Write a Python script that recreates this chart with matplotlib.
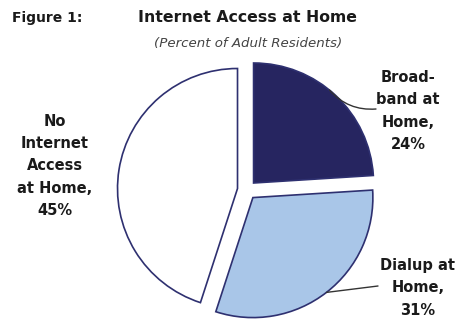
import matplotlib.pyplot as plt
import numpy as np

# data
labels = ["Broad-\nband at\nHome,\n24%", "Dialup at\nHome,\n31%", "No\nInternet\nAccess\nat Home,\n45%"]
shares = [24, 31, 45]
colors = ["#262560", "#a9c6e8", "#ffffff"]

# figure in pixel-like coordinates (y up)
W, H = 462, 326
fig = plt.figure(figsize=(4.62, 3.26), dpi=100)
ax = fig.add_axes([0, 0, 1, 1])

cx, cy, R = 247, H - 190, 120
# explode is in data units (not scaled by radius)
wedges, _ = ax.pie(shares, colors=colors, startangle=90, counterclock=False,
                   explode=[0.08 * R] * 3, center=(cx, cy), radius=R,
                   wedgeprops=dict(edgecolor="#2e3070", linewidth=1.2),
                   frame=True)
ax.set_xlim(0, W)
ax.set_ylim(0, H)
ax.set_aspect("equal")
ax.axis("off")

# titles
fig.text(12 / W, 1 - 18 / H, "Figure 1:", fontsize=10, fontweight="bold",
         va="center", ha="left", color="#1a1a1a")
fig.text(247 / W, 1 - 18 / H, "Internet Access at Home", fontsize=11.3,
         fontweight="bold", va="center", ha="center", color="#1a1a1a")
fig.text(248 / W, 1 - 43 / H, "(Percent of Adult Residents)", fontsize=9.6,
         style="italic", va="center", ha="center", color="#444444")

# labels
label_pos = [(408, H - 111), (418, H - 288), (55, H - 166)]
for lab, (lx, ly) in zip(labels, label_pos):
    ax.text(lx, ly, lab, fontsize=10.5, fontweight="bold", ha="center",
            va="center", linespacing=1.6, color="#1a1a1a")

# leader lines from wedge rims
line_ends = [(376, H - 109), (378, H - 286)]
line_angle_shift = [4, 0]
line_rad = [-0.25, 0.0]
for w, end, shift, rad in zip(wedges[:2], line_ends, line_angle_shift, line_rad):
    mid = np.radians((w.theta1 + w.theta2) / 2 + shift)
    px = w.center[0] + w.r * np.cos(mid)
    py = w.center[1] + w.r * np.sin(mid)
    ax.annotate("", xy=(px, py), xytext=end,
                arrowprops=dict(arrowstyle="-", color="#333333", lw=1.0,
                                shrinkA=0, shrinkB=0,
                                connectionstyle=f"arc3,rad={rad}"))

plt.savefig("out.png", dpi=100)
